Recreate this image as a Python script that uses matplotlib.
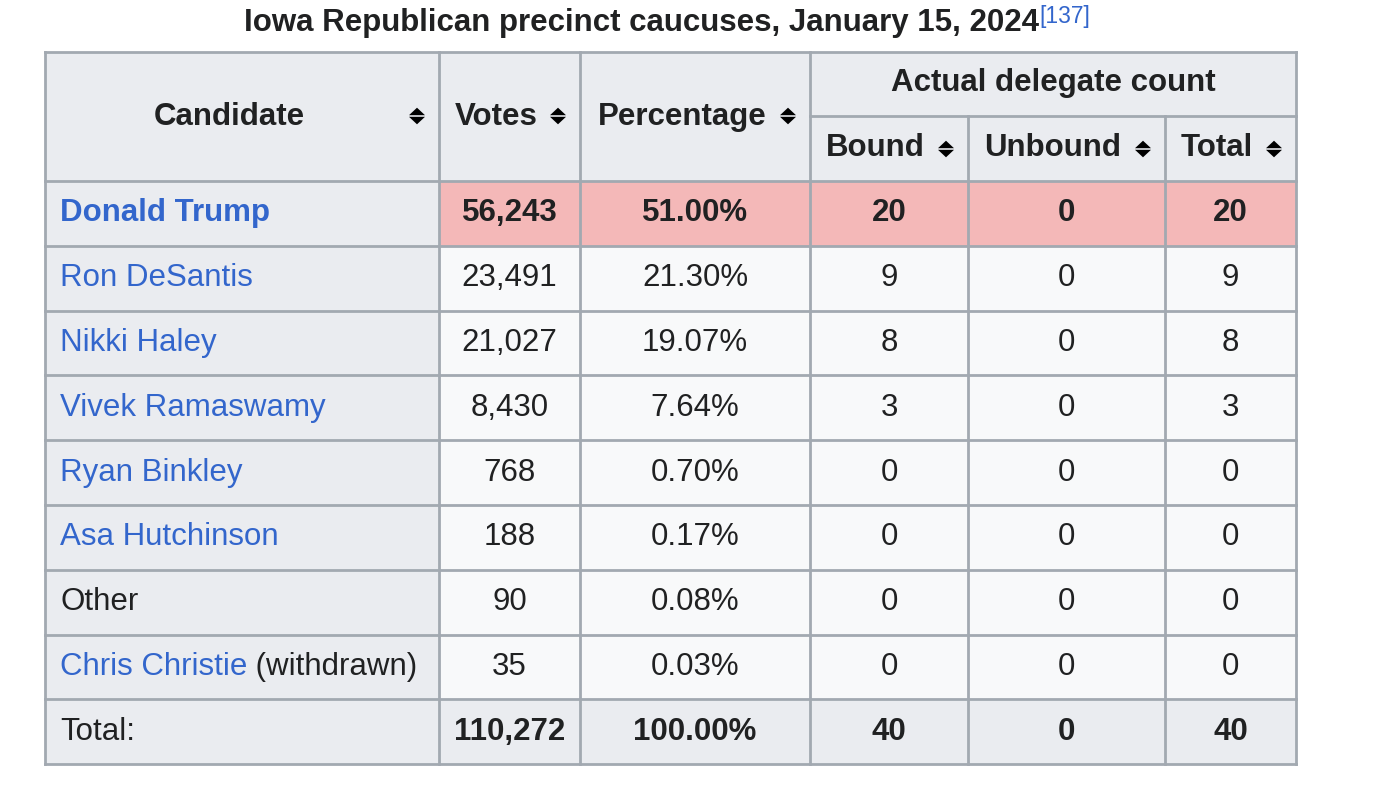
import matplotlib
matplotlib.use("Agg")
import matplotlib.pyplot as plt
from matplotlib.patches import Rectangle, Polygon

plt.rcParams['font.family'] = ['Liberation Sans', 'DejaVu Sans']

# ---------------- data ----------------
title = "Iowa Republican precinct caucuses, January 15, 2024"
title_ref = "[137]"
header_main = ["Candidate", "Votes", "Percentage"]
header_group = "Actual delegate count"
header_sub = ["Bound", "Unbound", "Total"]
candidates = ["Donald Trump", "Ron DeSantis", "Nikki Haley", "Vivek Ramaswamy",
              "Ryan Binkley", "Asa Hutchinson", "Other", "Chris Christie"]
candidate_notes = ["", "", "", "", "", "", "", " (withdrawn)"]
candidate_linked = [True, True, True, True, True, True, False, True]
votes = ["56,243", "23,491", "21,027", "8,430", "768", "188", "90", "35"]
percentages = ["51.00%", "21.30%", "19.07%", "7.64%", "0.70%", "0.17%", "0.08%", "0.03%"]
bound = ["20", "9", "8", "3", "0", "0", "0", "0"]
unbound = ["0", "0", "0", "0", "0", "0", "0", "0"]
total_del = ["20", "9", "8", "3", "0", "0", "0", "0"]
total_row = ["Total:", "110,272", "100.00%", "40", "0", "40"]
winner_index = 0

# ---------------- layout ----------------
W, H = 1376, 796
col_x = [45, 439, 580, 810, 968, 1165, 1296]
y_head_top = 52
y_head_mid = 116
y_head_bot = 181
row_h = 64.8
n_rows = len(candidates) + 1

BORDER = "#a2a9b1"
HEAD_BG = "#eaecf0"
CELL_BG = "#f8f9fa"
WIN_BG = "#f4b8b8"
TEXT = "#202122"
LINK = "#3366cc"
FS = 22.5

fig = plt.figure(figsize=(W / 100, H / 100), dpi=100)
ax = fig.add_axes([0, 0, 1, 1])
ax.set_xlim(0, W)
ax.set_ylim(H, 0)
ax.axis("off")
fig.patch.set_facecolor("white")


def rect(x0, y0, x1, y1, color):
    ax.add_patch(Rectangle((x0, y0), x1 - x0, y1 - y0, facecolor=color,
                           edgecolor="none", zorder=1))


def sort_icon(cx, cy):
    w, h, g = 8, 7.5, 0.8
    ax.add_patch(Polygon([(cx - w, cy - g), (cx + w, cy - g), (cx, cy - g - h)],
                         closed=True, facecolor="black", edgecolor="none", zorder=3))
    ax.add_patch(Polygon([(cx - w, cy + g), (cx + w, cy + g), (cx, cy + g + h)],
                         closed=True, facecolor="black", edgecolor="none", zorder=3))


# header backgrounds
rect(col_x[0], y_head_top, col_x[-1], y_head_bot, HEAD_BG)

# body backgrounds
row_tops = [y_head_bot + i * row_h for i in range(n_rows + 1)]
for i in range(n_rows):
    y0, y1 = row_tops[i], row_tops[i + 1]
    is_total = (i == n_rows - 1)
    rect(col_x[0], y0, col_x[1], y1, HEAD_BG)
    if is_total:
        bg = HEAD_BG
    elif i == winner_index:
        bg = WIN_BG
    else:
        bg = CELL_BG
    rect(col_x[1], y0, col_x[-1], y1, bg)

# grid lines
lw = 2.0
ax.plot([col_x[0], col_x[-1]], [y_head_top, y_head_top], color=BORDER, lw=lw, zorder=2)
ax.plot([col_x[3], col_x[-1]], [y_head_mid, y_head_mid], color=BORDER, lw=lw, zorder=2)
for y in row_tops:
    ax.plot([col_x[0], col_x[-1]], [y, y], color=BORDER, lw=lw, zorder=2)
y_bottom = row_tops[-1]
for j, x in enumerate(col_x):
    if j in (4, 5):
        ax.plot([x, x], [y_head_mid, y_bottom], color=BORDER, lw=lw, zorder=2)
    else:
        ax.plot([x, x], [y_head_top, y_bottom], color=BORDER, lw=lw, zorder=2)

# title
t_title = ax.text(642, 23, title, ha="center", va="center",
                  fontsize=FS, fontweight="bold", color=TEXT, zorder=4)
ax.annotate(title_ref, xy=(1, 1), xycoords=t_title, xytext=(0, 2),
            textcoords="offset points", ha="left", va="top",
            fontsize=16.5, color=LINK, zorder=4)

# header texts
head_cy = (y_head_top + y_head_bot) / 2 + 0.5
for j, lab in enumerate(header_main):
    x0, x1 = col_x[j], col_x[j + 1]
    cx = (x0 + x1) / 2 - 13
    ax.text(cx, head_cy, lab, ha="center", va="center", fontsize=FS,
            fontweight="bold", color=TEXT, zorder=4)
    sort_icon(x1 - 22, 116)

ax.text((col_x[3] + col_x[-1]) / 2, (y_head_top + y_head_mid) / 2 - 1, header_group,
        ha="center", va="center", fontsize=FS, fontweight="bold", color=TEXT, zorder=4)
sub_cy = (y_head_mid + y_head_bot) / 2
for k, lab in enumerate(header_sub):
    x0, x1 = col_x[3 + k], col_x[4 + k]
    cx = (x0 + x1) / 2 - 14
    ax.text(cx, sub_cy - 1, lab, ha="center", va="center", fontsize=FS,
            fontweight="bold", color=TEXT, zorder=4)
    sort_icon(x1 - 22, 149)

# body texts
for i in range(len(candidates)):
    cy = (row_tops[i] + row_tops[i + 1]) / 2
    bold = "bold" if i == winner_index else "normal"
    t = ax.text(col_x[0] + 15, cy, candidates[i], ha="left", va="center",
                fontsize=FS, fontweight=bold,
                color=LINK if candidate_linked[i] else TEXT, zorder=4)
    if candidate_notes[i]:
        ax.annotate(candidate_notes[i], xy=(1, 0), xycoords=t, ha="left", va="bottom",
                    fontsize=FS, fontweight=bold, color=TEXT, zorder=4)
    vals = [votes[i], percentages[i], bound[i], unbound[i], total_del[i]]
    for j, v in enumerate(vals):
        cx = (col_x[j + 1] + col_x[j + 2]) / 2
        ax.text(cx, cy, v, ha="center", va="center", fontsize=FS,
                fontweight=bold, color=TEXT, zorder=4)

# total row
i = n_rows - 1
cy = (row_tops[i] + row_tops[i + 1]) / 2
ax.text(col_x[0] + 15, cy, total_row[0], ha="left", va="center", fontsize=FS,
        color=TEXT, zorder=4)
for j, v in enumerate(total_row[1:]):
    cx = (col_x[j + 1] + col_x[j + 2]) / 2
    ax.text(cx, cy, v, ha="center", va="center", fontsize=FS,
            fontweight="bold", color=TEXT, zorder=4)

fig.savefig("out.png", dpi=100, facecolor="white")
